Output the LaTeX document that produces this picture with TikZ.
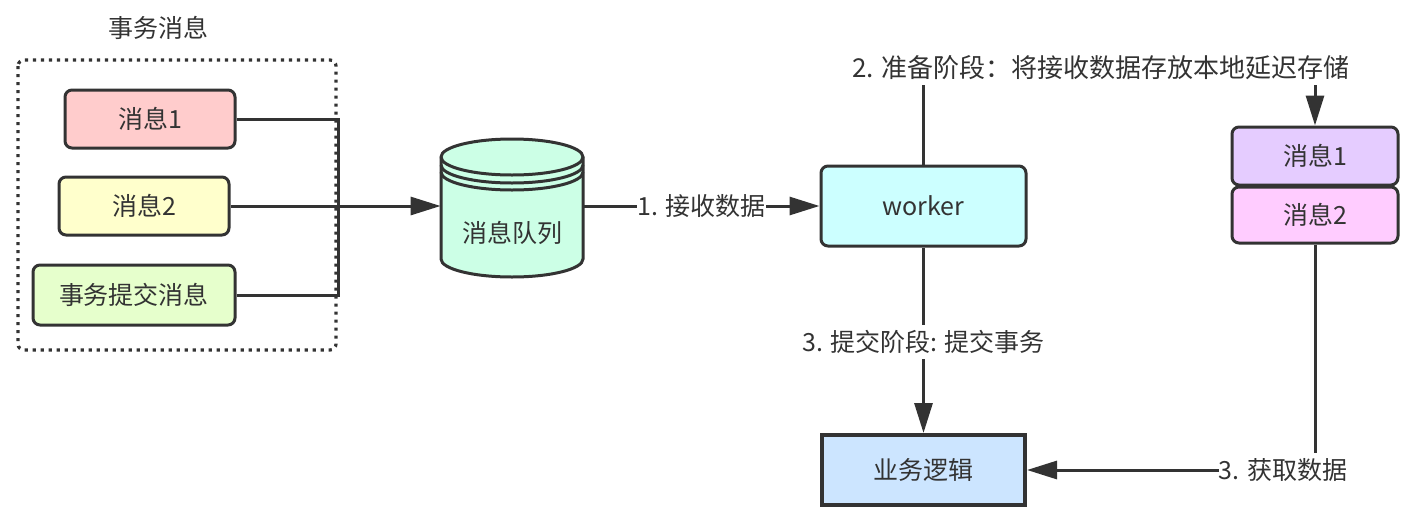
\documentclass[tikz,border=0pt]{standalone}
\usepackage{fontspec}
\setmainfont{Noto Sans CJK SC}
\usetikzlibrary{arrows.meta,calc}
\definecolor{ln}{HTML}{333333}
\definecolor{cA}{HTML}{FFCCCC}
\definecolor{cB}{HTML}{FFFFCC}
\definecolor{cC}{HTML}{E6FFCC}
\definecolor{cQ}{HTML}{CCFFE6}
\definecolor{cW}{HTML}{CCFFFF}
\definecolor{cP}{HTML}{E5CCFF}
\definecolor{cM}{HTML}{FFCCFF}
\definecolor{cZ}{HTML}{CCE5FF}
\tikzset{
  box/.style={draw=ln, line width=1.5pt, rounded corners=3.5pt, inner sep=0pt, text=ln},
  conn/.style={draw=ln, line width=1.5pt},
  arr/.style={conn, -{Triangle[length=15pt,width=9pt]}},
  lbl/.style={fill=white, text=ln, inner sep=2.5pt},
}
\begin{document}
\begin{tikzpicture}[x=0.5pt,y=-0.5pt,font=\fontsize{12.5}{15}\selectfont]
\useasboundingbox (0,0) rectangle (1410,520);
% group
\node[text=ln] (title) at (158,28) {事务消息};
\draw[ln, line width=1.6pt, dash pattern=on 1.6pt off 2.4pt, rounded corners=3pt] (18,60) rectangle (336,350);
\node[box, fill=cA, minimum width=85pt, minimum height=29pt] (m1) at (150,119) {消息1};
\node[box, fill=cB, minimum width=85pt, minimum height=29pt] (m2) at (144,206) {消息2};
\node[box, fill=cC, minimum width=101pt, minimum height=30pt] (tc) at (134,295) {事务提交消息};
\coordinate (j) at (338,206);
\draw[conn] (m1.east) -| (j);
\draw[conn] (tc.east) -| (j);
\draw[conn] (m2.east) -- (j);
% cylinder
\filldraw[fill=cQ, draw=ln, line width=1.5pt] (441,157) -- (441,259)
  arc[start angle=180, end angle=360, x radius=35.5pt, y radius=9pt]
  -- (583,157)
  arc[start angle=0, end angle=180, x radius=35.5pt, y radius=9pt] -- cycle;
\draw[ln, line width=1.5pt] (441,157) arc[start angle=180, end angle=360, x radius=35.5pt, y radius=9pt];
\draw[ln, line width=1.5pt] (441,165) arc[start angle=180, end angle=360, x radius=35.5pt, y radius=9pt];
\draw[ln, line width=1.5pt] (441,172) arc[start angle=180, end angle=360, x radius=35.5pt, y radius=9pt];
\node[minimum width=71pt, minimum height=60pt, inner sep=0pt] (cyl) at (512,206) {};
\node[text=ln] (qtext) at (512,233) {消息队列};
\draw[arr] (j) -- (cyl.west);
% worker
\node[box, fill=cW, minimum width=102.5pt, minimum height=40pt] (worker) at (923.5,206) {worker};
\draw[arr] (cyl.east) -- node[lbl, inner xsep=0pt, pos=0.5] (l1) {1. 接收数据} (worker.west);
% right stack
\node[box, fill=cP, minimum width=83pt, minimum height=29pt] (p1) at (1315,156) {消息1};
\node[box, fill=cM, minimum width=83pt, minimum height=28pt] (p2) at (1315,215) {消息2};
\coordinate (c2) at (1315,68);
\draw[arr] (worker.north) |- (c2) -- (p1.north);
\node[lbl, font=\fontsize{13}{15}\selectfont] (l2) at (1101,68) {2. 准备阶段：将接收数据存放本地延迟存储};
% business
\node[draw=ln, line width=2pt, fill=cZ, text=ln, minimum width=101.5pt, minimum height=35pt, inner sep=0pt] (biz) at (923.5,470) {业务逻辑};
\draw[arr] (worker.south) -- node[lbl, pos=0.51] (l3) {3. 提交阶段: 提交事务} (biz.north);
\draw[arr] (p2.south) |- (biz.east);
\node[lbl, inner xsep=0pt] (l4) at (1283,470) {3. 获取数据};
\end{tikzpicture}
\end{document}
